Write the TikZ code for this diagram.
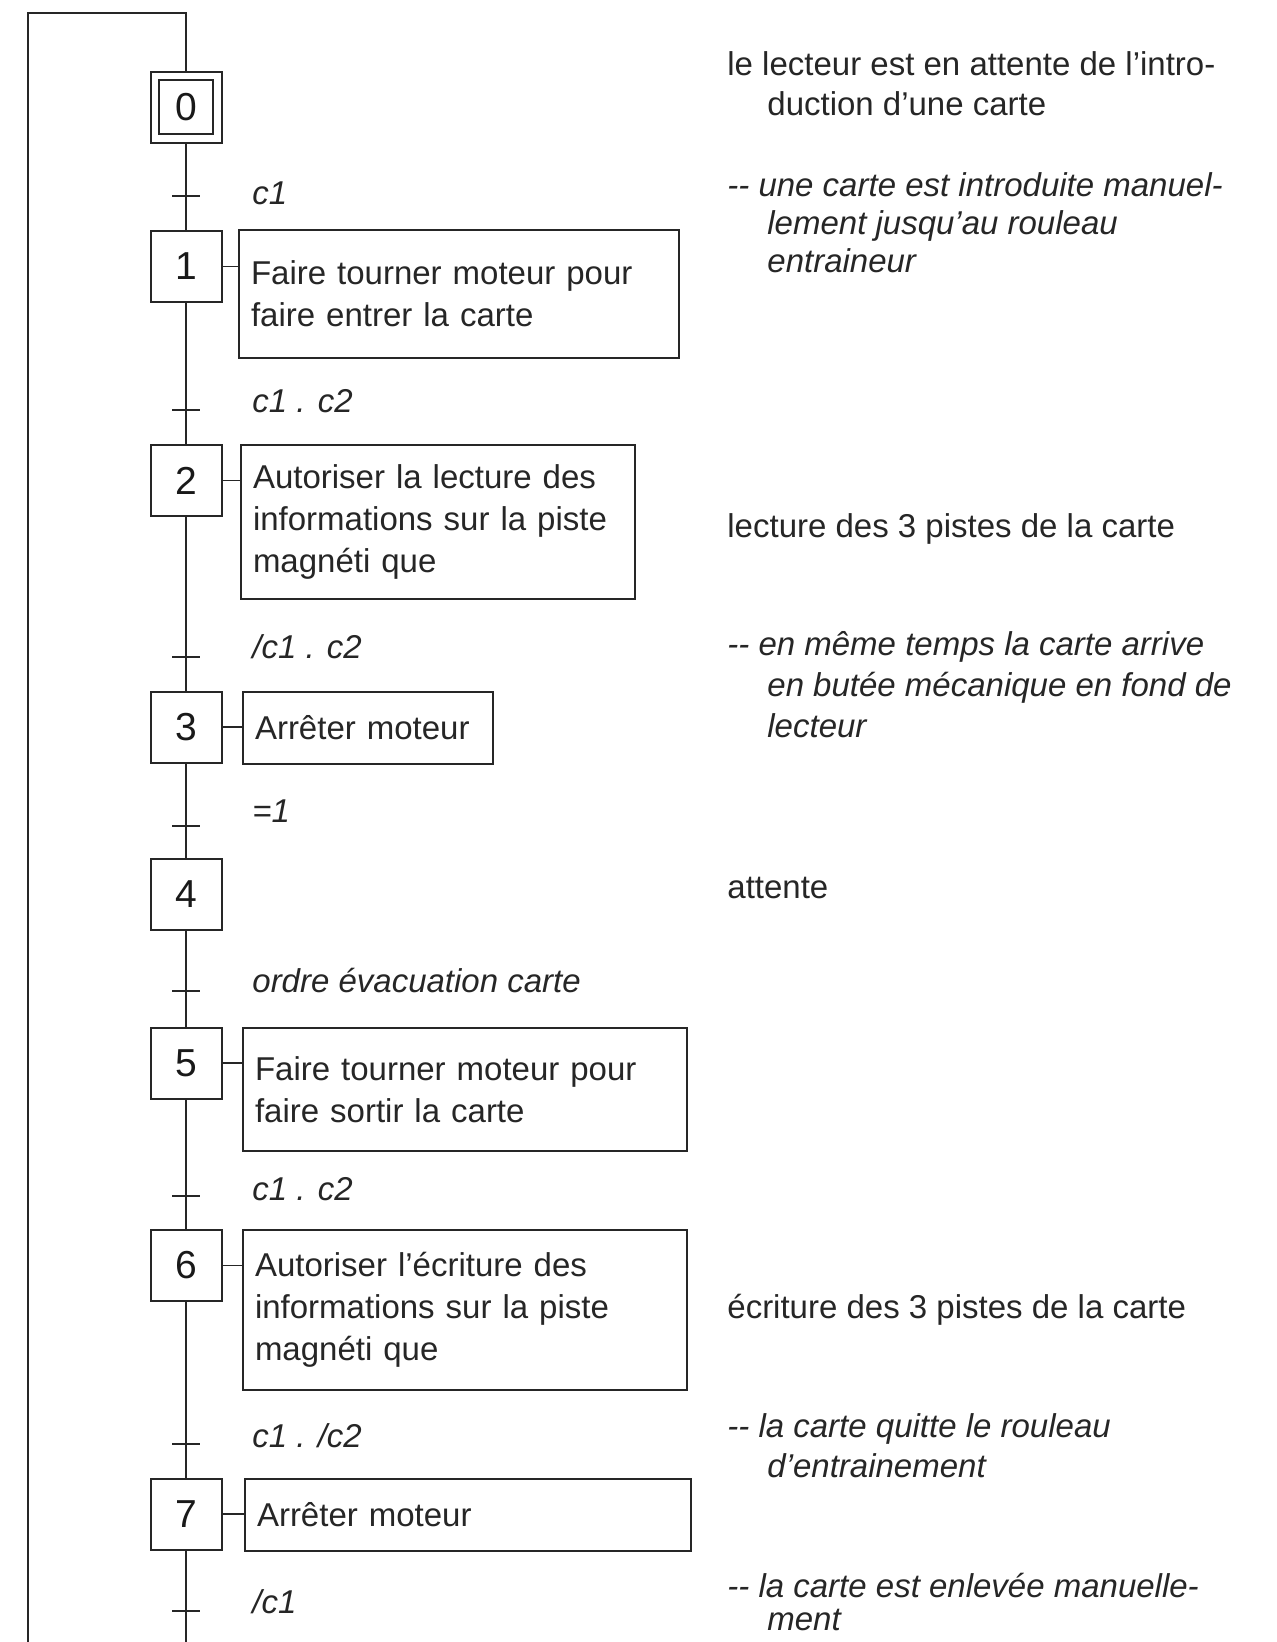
\documentclass[tikz,border=0pt]{standalone}
\usepackage{fontspec}
\setmainfont{Liberation Sans}
\begin{document}
\begin{tikzpicture}[x=0.5pt,y=-0.5pt,
  ln/.style={line width=0.8pt, draw=black!85},
  stepbox/.style={draw=black!85, line width=1pt, minimum size=35.5pt, inner sep=0pt,
    font=\fontsize{19.5}{19.5}\selectfont, text=black!90},
  initstep/.style={stepbox, minimum size=31.25pt, double, double distance=3.25pt, outer sep=2.625pt},
  actbox/.style={draw=black!85, line width=1pt, anchor=north west, inner xsep=6pt, inner ysep=0pt,
    align=left, font=\fontsize{16.5}{21}\selectfont, text=black!85},
  trlabel/.style={anchor=base west, inner sep=0pt, font=\fontsize{16.5}{19}\selectfont\itshape, text=black!85},
  comment/.style={anchor=north west, inner sep=0pt, align=left, font=\fontsize{16.5}{20}\selectfont, text=black!85},
  tick/.style={line width=0.9pt, draw=black!85}
]
\useasboundingbox (0,0) rectangle (1277,1642);
\fill[white] (0,0) rectangle (1277,1642);

% steps
\node[initstep] (s0) at (186,107.5) {0};
\node[stepbox] (s1) at (186,266.5) {1};
\node[stepbox] (s2) at (186,480.5) {2};
\node[stepbox] (s3) at (186,727) {3};
\node[stepbox] (s4) at (186,894) {4};
\node[stepbox] (s5) at (186,1063) {5};
\node[stepbox] (s6) at (186,1265.5) {6};
\node[stepbox] (s7) at (186,1514) {7};

% actions
\node[actbox, minimum width=220pt, minimum height=64pt, text width=208pt] (a1) at (238,229)
  {Faire tourner moteur pour\\faire entrer la carte};
\node[actbox, minimum width=197pt, minimum height=77pt, text width=185pt] (a2) at (240,444)
  {Autoriser la lecture des\\informations sur la piste\\magnéti que};
\node[actbox, minimum width=125pt, minimum height=36pt, text width=113pt] (a3) at (242,691)
  {Arrêter moteur};
\node[actbox, minimum width=222pt, minimum height=61.5pt, text width=210pt] (a5) at (242,1027)
  {Faire tourner moteur pour\\faire sortir la carte};
\node[actbox, minimum width=222pt, minimum height=80pt, text width=210pt] (a6) at (242,1229)
  {Autoriser l'écriture des\\informations sur la piste\\magnéti que};
\node[actbox, minimum width=223pt, minimum height=36pt, text width=211pt] (a7) at (244,1478)
  {Arrêter moteur};

\foreach \i in {1,2,3,5,6,7} \draw[ln] (s\i.east) -- (s\i.east -| a\i.west);

% transitions
\coordinate (t01) at (186,196);
\coordinate (t12) at (186,410);
\coordinate (t23) at (186,657);
\coordinate (t34) at (186,826);
\coordinate (t45) at (186,991);
\coordinate (t56) at (186,1196);
\coordinate (t67) at (186,1444);
\coordinate (t70) at (186,1611);

\draw[ln] (s0.south) -- (t01) -- (s1.north);
\draw[ln] (s1.south) -- (t12) -- (s2.north);
\draw[ln] (s2.south) -- (t23) -- (s3.north);
\draw[ln] (s3.south) -- (t34) -- (s4.north);
\draw[ln] (s4.south) -- (t45) -- (s5.north);
\draw[ln] (s5.south) -- (t56) -- (s6.north);
\draw[ln] (s6.south) -- (t67) -- (s7.north);

% loop back
\coordinate (botR) at (186,1650);
\coordinate (botL) at (28,1650);
\coordinate (topL) at (28,13);
\coordinate (topR) at (186,13);
\draw[ln] (s7.south) -- (t70) -- (botR) -- (botL) -- (topL) -- (topR) -- (s0.north);

\foreach \t in {t01,t12,t23,t34,t45,t56,t67,t70}
  \draw[tick] ([xshift=-7pt]\t) -- ([xshift=7pt]\t);

% receptivities
\node[trlabel] (r01) at (252,205) {c1};
\node[trlabel] (r12) at (252,412) {c1 . c2};
\node[trlabel] (r23) at (252,658) {/c1 . c2};
\node[trlabel] (r34) at (252,822) {=1};
\node[trlabel] (r45) at (252,992) {ordre évacuation carte};
\node[trlabel] (r56) at (252,1200) {c1 . c2};
\node[trlabel] (r67) at (252,1447) {c1 . /c2};
\node[trlabel] (r70) at (252,1613) {/c1};

% comments
\node[comment] (c0) at (727,47)
  {\strut le lecteur est en attente de l'intro-\\\strut\hspace*{20pt}duction d'une carte};
\node[comment, font=\fontsize{16.5}{19}\selectfont\itshape] (c1) at (727,170)
  {\strut -\kern0pt- une carte est introduite manuel-\\\strut\hspace*{20pt}lement jusqu'au rouleau\\\strut\hspace*{20pt}entraineur};
\node[comment] (c2) at (727,509) {\strut lecture des 3 pistes de la carte};
\node[comment, font=\fontsize{16.5}{20.5}\selectfont\itshape] (c3) at (727,626)
  {\strut -\kern0pt- en même temps la carte arrive\\\strut\hspace*{20pt}en butée mécanique en fond de\\\strut\hspace*{20pt}lecteur};
\node[comment] (c4) at (727,870) {\strut attente};
\node[comment] (c5) at (727,1290) {\strut écriture des 3 pistes de la carte};
\node[comment, font=\fontsize{16.5}{20}\selectfont\itshape] (c6) at (727,1409)
  {\strut -\kern0pt- la carte quitte le rouleau\\\strut\hspace*{20pt}d'entrainement};
\node[comment, font=\fontsize{16.5}{16.5}\selectfont\itshape] (c7) at (727,1573)
  {\strut -\kern0pt- la carte est enlevée manuelle-\\\hspace*{20pt}ment};
\end{tikzpicture}
\end{document}
